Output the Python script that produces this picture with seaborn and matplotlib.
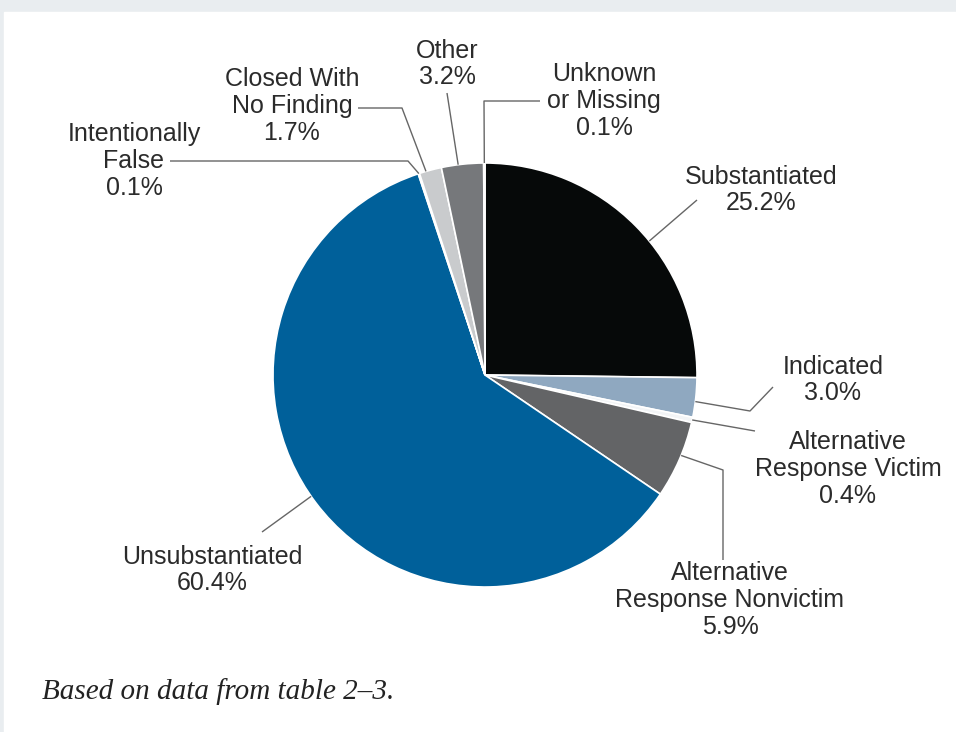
"""Pie chart of report dispositions, redrawn with matplotlib/seaborn."""

import numpy as np
import matplotlib.pyplot as plt
import seaborn as sns
from matplotlib.patches import Rectangle

# Data (clockwise from 12 o'clock)
categories = [
    "Substantiated",
    "Indicated",
    "Alternative\nResponse Victim",
    "Alternative\nResponse Nonvictim",
    "Unsubstantiated",
    "Intentionally\nFalse",
    "Closed With\nNo Finding",
    "Other",
    "Unknown\nor Missing",
]
shares = [25.2, 3.0, 0.4, 5.9, 60.4, 0.1, 1.7, 3.2, 0.1]
slice_colors = ["#060909", "#8fa8c0", "#f2f4f6", "#636466", "#00609a",
                "#ffffff", "#c9cbcd", "#76787b", "#ffffff"]

# Layout in pixels (top-down): label centre, where along the wedge the
# leader starts (fraction of the wedge) and the leader's bend points
W, H = 956, 732
label_pos = [(761, 190), (833, 380), (848, 469), (730, 600), (212, 570),
             (134, 161), (292, 106), (447, 64), (604, 101)]
anchor_frac = [0.56, 0.6, 0.5, 0.44, 0.51, 0.5, 0.3, 0.4, 0.5]
leader_path = [
    [(697, 200)],
    [(750, 411), (773, 387)],
    [(755, 431)],
    [(723, 470), (723, 560)],
    [(262, 532)],
    [(408, 161), (170, 161)],
    [(402, 108), (358, 108)],
    [(447, 93)],
    [(484, 101), (540, 101)],
]
center_px = (485, 375)
radius_px = 212

sns.set_theme(style="white")
plt.rcParams['font.family'] = ['Liberation Sans', 'DejaVu Sans']

fig = plt.figure(figsize=(W / 100, H / 100), dpi=100)
fig.patch.set_facecolor('#e9edf0')
ax = fig.add_axes([0, 0, 1, 1])

# white panel
ax.add_patch(Rectangle((4, 0), W - 4, H - 12, color='white', zorder=0))

cx, cy = center_px[0], H - center_px[1]
wedges, _ = ax.pie(
    shares, colors=slice_colors, startangle=90, counterclock=False,
    center=(cx, cy), radius=radius_px,
    wedgeprops=dict(edgecolor='white', linewidth=1.2),
)
ax.set_xlim(0, W)
ax.set_ylim(0, H)
ax.set_aspect('equal')
ax.axis('off')

for wedge, name, share, pos, frac, path in zip(
        wedges, categories, shares, label_pos, anchor_frac, leader_path):
    # pie runs clockwise, so theta2 is the start edge
    ang = np.deg2rad(wedge.theta2 - frac * (wedge.theta2 - wedge.theta1))
    ax0 = cx + radius_px * np.cos(ang)
    ay0 = cy + radius_px * np.sin(ang)
    xs = [ax0] + [p[0] for p in path]
    ys = [ay0] + [H - p[1] for p in path]
    ax.plot(xs, ys, color='#666666', lw=1.0, solid_capstyle='butt', zorder=3)
    ax.text(pos[0], H - pos[1], f"{name}\n{share:.1f}%", ha='center',
            va='center', multialignment='center', fontsize=18,
            linespacing=1.15, color='#2b2b2b', zorder=4)

ax.text(42, H - 692, "Based on data from table 2\u20133.", ha='left',
        va='center', fontsize=21, style='italic',
        family=['Liberation Serif', 'DejaVu Serif'], color='#222222')

fig.savefig('out.png', dpi=100)
plt.close(fig)
